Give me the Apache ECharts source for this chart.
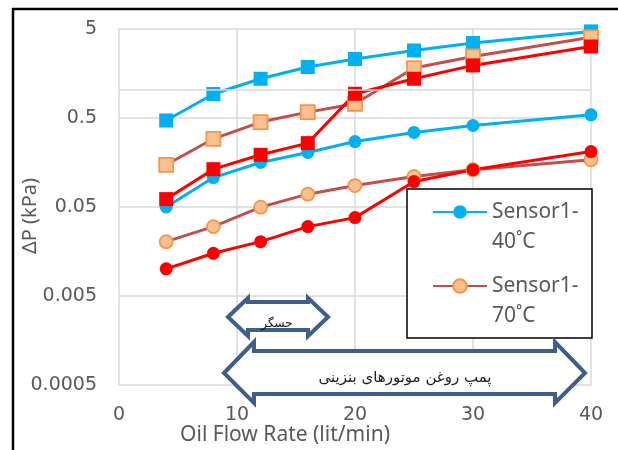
<!DOCTYPE html>
<html><head><meta charset="utf-8">
<script src="https://cdn.jsdelivr.net/npm/echarts@6/dist/echarts.min.js"></script>
<style>html,body{margin:0;padding:0;background:#fff}#c{width:618px;height:450px}</style>
</head><body><div id="c"></div>
<script>
// ---- data ----
const flowRates = [4, 8, 12, 16, 20, 25, 30, 40];
const sensor1_40 = [0.050, 0.107, 0.158, 0.205, 0.272, 0.344, 0.412, 0.543];
const sensor1_70 = [0.0204, 0.0301, 0.0498, 0.0697, 0.0871, 0.110, 0.131, 0.170];
const sensor1_red = [0.0101, 0.0151, 0.0204, 0.0301, 0.038, 0.0966, 0.131, 0.210];
const sensor2_40 = [0.469, 0.93, 1.38, 1.87, 2.30, 2.87, 3.48, 4.70];
const sensor2_70 = [0.149, 0.292, 0.450, 0.582, 0.723, 1.82, 2.46, 4.03];
const sensor2_red = [0.0613, 0.133, 0.193, 0.261, 0.936, 1.38, 1.95, 3.18];
const yTickLabels = [0.0005, 0.005, 0.05, 0.5, 5];
const xTickLabels = [0, 10, 20, 30, 40];
const strayLineValue = 1.04;
const legendNames = ['Sensor1-40˚C', 'Sensor1-70˚C'];
const arrowTextSmall = 'حسگر';
const arrowTextBig = 'پمپ روغن موتورهای بنزینی';

// log10 scale (decades) on a value axis
const L = v => Math.log10(v);
const pairs = ys => flowRates.map((x, i) => [x, L(ys[i])]);
const BLUE = '#00B0F0', RED = '#FF0000', BROWN = '#C0504D', OFILL = '#FAC090', OEDGE = '#F79646';
const GRID = '#D9D9D9', TXT = '#595959', ARROW = '#3E5F8A';

function mk(name, ys, color, symbol, size, fill, edge) {
  return {
    name, type: 'line', data: pairs(ys), symbol, symbolSize: size,
    lineStyle: { color, width: 3 },
    itemStyle: { color: fill || color, borderColor: edge || fill || color, borderWidth: edge ? 1.8 : 0 },
    emphasis: { disabled: true }, animation: false
  };
}

const series = [
  mk(legendNames[0], sensor1_40, BLUE, 'circle', 13),
  mk(legendNames[1], sensor1_70, BROWN, 'circle', 13, OFILL, OEDGE),
  mk('Sensor1-series3', sensor1_red, RED, 'circle', 13),
  mk('Sensor2-40˚C', sensor2_40, BLUE, 'rect', 14),
  mk('Sensor2-70˚C', sensor2_70, BROWN, 'rect', 14, OFILL, OEDGE),
  mk('Sensor2-series3', sensor2_red, RED, 'rect', 14)
];
series[0].markLine = {
  silent: true, symbol: 'none', label: { show: false }, animation: false,
  lineStyle: { color: GRID, width: 1.5, type: 'solid' },
  data: [{ yAxis: L(strayLineValue) }]
};

const yMin = L(yTickLabels[0]);
const yMax = L(yTickLabels[yTickLabels.length - 1]) + 1e-9;
const fmtNum = v => String(Number(Math.pow(10, v).toPrecision(2)));

const chart = echarts.init(document.getElementById('c'), null, { renderer: 'canvas' });
chart.setOption({
  animation: false,
  backgroundColor: '#fff',
  grid: { left: 119, right: 27, top: 29, bottom: 65, containLabel: false, outerBoundsMode: 'none' },
  xAxis: {
    type: 'value', min: xTickLabels[0], max: xTickLabels[xTickLabels.length - 1], interval: 10,
    axisLine: { show: false }, axisTick: { show: false },
    splitLine: { show: true, lineStyle: { color: GRID, width: 1.5 } },
    axisLabel: { fontFamily: 'DejaVu Sans', fontSize: 19, color: TXT, margin: 21 },
    name: 'Oil Flow Rate (lit/min)', nameLocation: 'middle', nameGap: 40, nameMoveOverlap: false,
    nameTextStyle: { fontFamily: 'Noto Sans', fontSize: 21, color: TXT, padding: [0, 140, 0, 0] }
  },
  yAxis: {
    type: 'value', min: yMin, max: yMax, interval: 1,
    axisLine: { show: false }, axisTick: { show: false },
    splitLine: { show: true, lineStyle: { color: GRID, width: 1.5 } },
    axisLabel: { fontFamily: 'DejaVu Sans', fontSize: 19, color: TXT, margin: 22, formatter: fmtNum },
    name: 'ΔP (kPa)', nameLocation: 'middle', nameGap: 79, nameRotate: 90, nameMoveOverlap: false,
    nameTextStyle: { fontFamily: 'Noto Sans', fontSize: 20, color: TXT, padding: [0, 18, 0, 0] }
  },
  legend: {
    data: legendNames, orient: 'vertical', left: 432, top: 167,
    padding: 0, itemWidth: 54, itemHeight: 17, itemGap: -16,
    backgroundColor: 'transparent', borderWidth: 0,
    formatter: n => '\n' + n.replace('-', '-\n'),
    textStyle: { fontFamily: 'Noto Sans', fontSize: 21, color: TXT, lineHeight: 30 },
    selectedMode: false
  },
  series,
  graphic: [
    { type: 'rect', z: 3, silent: true,
      shape: { x: 407, y: 189, width: 185, height: 149 },
      style: { fill: '#fff', stroke: '#000', lineWidth: 1.5 } },
    { type: 'rect', z: 100, silent: true,
      shape: { x: 13, y: 9, width: 800, height: 700 },
      style: { fill: 'none', stroke: '#000', lineWidth: 2.5 } },
    { type: 'polygon', z: 50, silent: true,
      shape: { points: [[228,317],[248,298],[248,302],[308,302],[308,298],[328,317],[308,336],[308,330],[248,330],[248,336]] },
      style: { fill: '#fff', stroke: ARROW, lineWidth: 4, lineJoin: 'miter' } },
    { type: 'text', z: 51, silent: true,
      style: { text: arrowTextSmall, x: 277, y: 324, align: 'center', verticalAlign: 'middle',
               font: '12px "DejaVu Sans"', fill: '#111' } },
    { type: 'polygon', z: 50, silent: true,
      shape: { points: [[224,373],[254,342],[254,351],[555,351],[555,342],[585,373],[555,403],[555,394],[254,394],[254,403]] },
      style: { fill: '#fff', stroke: ARROW, lineWidth: 4, lineJoin: 'miter' } },
    { type: 'text', z: 51, silent: true,
      style: { text: arrowTextBig, x: 405, y: 378, align: 'center', verticalAlign: 'middle',
               font: '15px "DejaVu Sans"', fill: '#222' } }
  ]
});
</script></body></html>
